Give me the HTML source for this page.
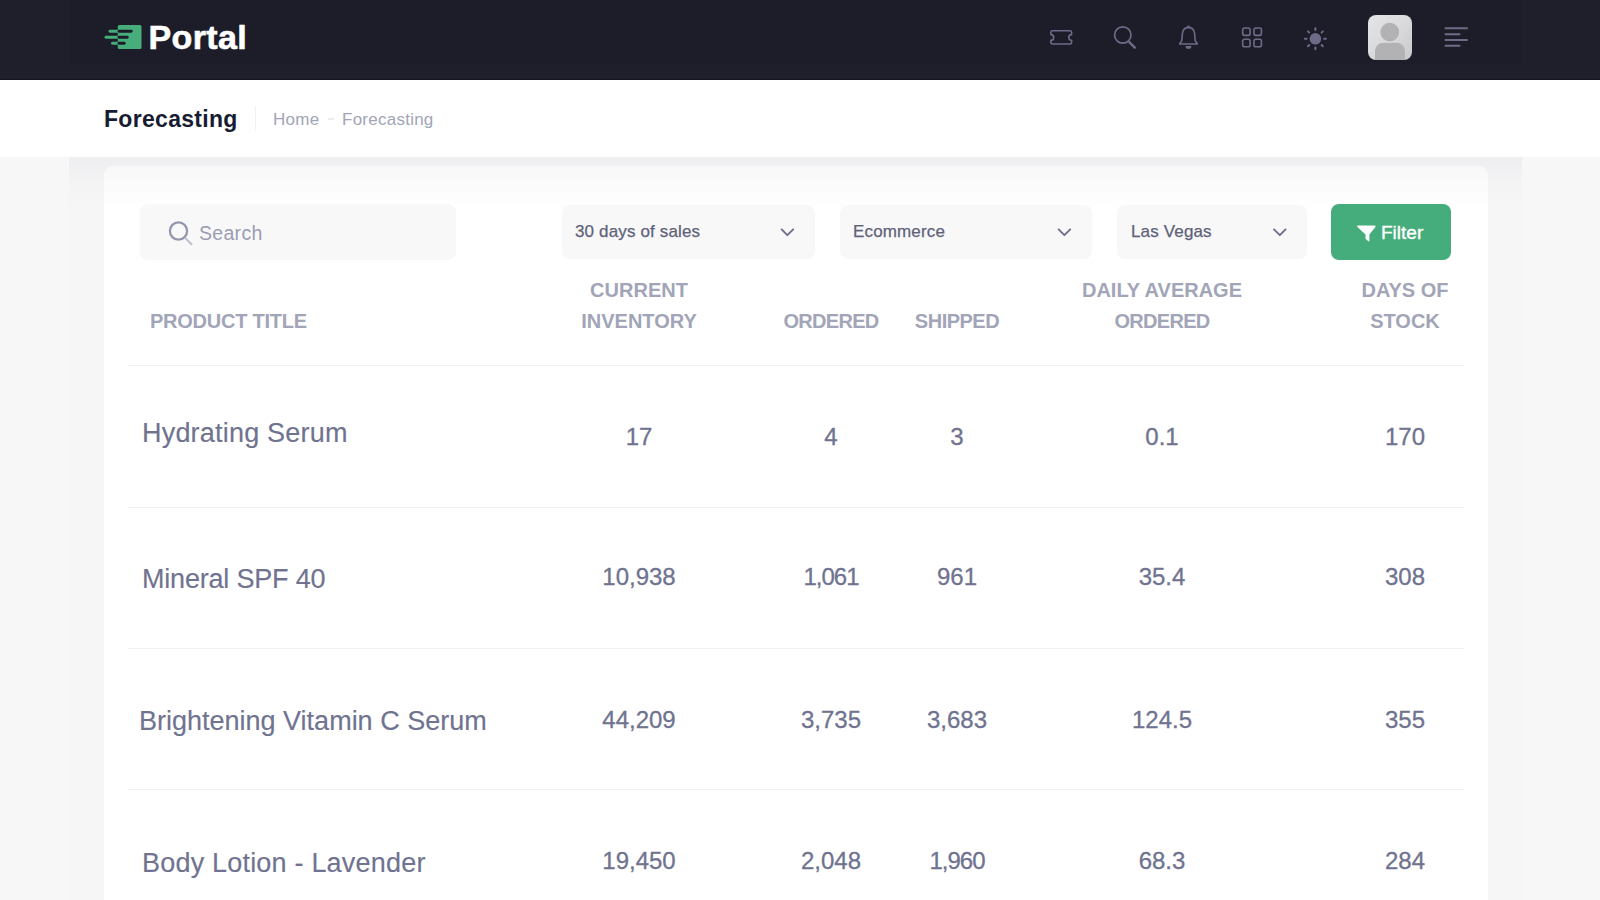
<!DOCTYPE html>
<html>
<head>
<meta charset="utf-8">
<style>
html,body{margin:0;padding:0;}
body{width:1600px;height:900px;overflow:hidden;background:#f7f7f7;position:relative;font-family:"Liberation Sans",sans-serif;}
.abs{position:absolute;}
#hdr{left:0;top:0;width:1600px;height:80px;background:#1f1e2b;}
#hdr-inner{left:69px;top:0;width:1453px;height:64px;background:#1d1d29;}
#hdr-line{left:0;top:79px;width:1600px;height:1px;background:#14141d;}
#toolbar{left:0;top:80px;width:1600px;height:77px;background:#ffffff;}
#shade{left:69px;top:157px;width:1453px;height:743px;background:linear-gradient(#eeeef0 0px,#f0f0f2 9px,#f4f4f5 28px,#f6f6f6 50px,#f6f6f6 100%);}
#card{left:104px;top:166px;width:1384px;height:800px;background:linear-gradient(#f8f8f9 0px,#ffffff 42px);border-radius:9px;}
.t{position:absolute;white-space:nowrap;line-height:1;}
.c{text-align:center;}
.hd{font-size:20px;font-weight:700;color:#a1a5b7;}
.ln{left:128px;width:1336px;height:1px;background:#eff2f5;}
.pt{font-size:27px;color:#6f7390;-webkit-text-stroke:0.15px #6f7390;}
.num{font-size:24px;color:#6f7390;-webkit-text-stroke:0.3px #6f7390;}
</style>
</head>
<body>
<div id="hdr" class="abs"></div>
<div id="hdr-inner" class="abs"></div>
<div id="hdr-line" class="abs"></div>

<!-- logo -->
<svg class="abs" style="left:100px;top:20px" width="50" height="34" viewBox="100 20 50 34">
  <rect x="117.8" y="25" width="23.7" height="24" rx="1.5" fill="#47ad7b"/>
  <g stroke-linecap="round" stroke-width="2.9">
    <line x1="110" y1="31.2" x2="119" y2="31.2" stroke="#47ad7b"/>
    <line x1="119" y1="31.2" x2="131.2" y2="31.2" stroke="#1d1d29"/>
    <line x1="106" y1="37.2" x2="119" y2="37.2" stroke="#47ad7b"/>
    <line x1="119" y1="37.2" x2="127.2" y2="37.2" stroke="#1d1d29"/>
    <line x1="112.5" y1="43.2" x2="119" y2="43.2" stroke="#47ad7b"/>
    <line x1="119" y1="43.2" x2="124.2" y2="43.2" stroke="#1d1d29"/>
  </g>
</svg>
<div class="t" style="left:148.5px;top:20px;font-size:34px;font-weight:700;color:#ffffff;letter-spacing:0.35px;-webkit-text-stroke:0.6px #ffffff;">Portal</div>


<!-- header icons -->
<svg class="abs" style="left:0;top:0" width="1600" height="80" viewBox="0 0 1600 80">
  <g fill="none" stroke="#6d6b87" stroke-width="1.6" stroke-linecap="round" stroke-linejoin="round">
    <!-- ticket -->
    <path d="M1052.5 30.8 H1070 a1.6 1.6 0 0 1 1.6 1.6 V34.6 a2.8 2.8 0 0 0 0 5.6 V42.4 a1.6 1.6 0 0 1 -1.6 1.6 H1052.5 a1.6 1.6 0 0 1 -1.6 -1.6 V40.2 a2.8 2.8 0 0 0 0 -5.6 V32.4 a1.6 1.6 0 0 1 1.6 -1.6 Z"/>
    <!-- search -->
    <circle cx="1122.8" cy="35" r="8.2" stroke-width="1.7"/>
    <line x1="1129.3" y1="42.2" x2="1134.8" y2="47.6" stroke-width="2.4"/>
    <!-- bell -->
    <path d="M1179.6 44 H1197.4 L1195.2 40.6 L1194.6 33.5 C1194.2 29.6 1191.6 27.6 1188.5 27.4 C1185.4 27.6 1182.8 29.6 1182.4 33.5 L1181.8 40.6 Z"/>
    <!-- grid -->
    <rect x="1242.7" y="28" width="7.4" height="7.4" rx="1.8"/>
    <rect x="1254" y="28" width="7.4" height="7.4" rx="1.8"/>
    <rect x="1242.7" y="39.3" width="7.4" height="7.4" rx="1.8"/>
    <rect x="1254" y="39.3" width="7.4" height="7.4" rx="1.8"/>
    <!-- sun rays -->
    <g stroke-width="2">
      <line x1="1315.4" y1="28.3" x2="1315.4" y2="30"/>
      <line x1="1315.4" y1="47.6" x2="1315.4" y2="49.3"/>
      <line x1="1304.9" y1="38.8" x2="1306.6" y2="38.8"/>
      <line x1="1324.2" y1="38.8" x2="1325.9" y2="38.8"/>
      <line x1="1308" y1="31.4" x2="1309.2" y2="32.6"/>
      <line x1="1321.6" y1="45" x2="1322.8" y2="46.2"/>
      <line x1="1322.8" y1="31.4" x2="1321.6" y2="32.6"/>
      <line x1="1309.2" y1="45" x2="1308" y2="46.2"/>
    </g>
    <!-- hamburger -->
    <g stroke-width="2">
      <line x1="1445.5" y1="28.3" x2="1467" y2="28.3"/>
      <line x1="1445.5" y1="34.2" x2="1459.5" y2="34.2"/>
      <line x1="1445.5" y1="40" x2="1467" y2="40"/>
      <line x1="1445.5" y1="45.8" x2="1459.5" y2="45.8"/>
    </g>
  </g>
  <path d="M1185.6 46 H1191.4 A2.9 2.9 0 0 1 1185.6 46 Z" fill="#6d6b87"/>
  <circle cx="1188.5" cy="26.6" r="1.2" fill="#6d6b87"/>
  <circle cx="1315.4" cy="38.8" r="5.8" fill="#6d6b87"/>
  <!-- avatar -->
  <defs>
    <linearGradient id="avg" x1="0" y1="0" x2="1" y2="1">
      <stop offset="0" stop-color="#e4e4e6"/>
      <stop offset="0.5" stop-color="#dadadc"/>
      <stop offset="1" stop-color="#c9c9cc"/>
    </linearGradient>
    <clipPath id="avc"><rect x="1368" y="15" width="44" height="45" rx="8"/></clipPath>
  </defs>
  <rect x="1368" y="15" width="44" height="45" rx="8" fill="url(#avg)"/>
  <g clip-path="url(#avc)" fill="#b2b2b5">
    <path d="M1375 62 V52 C1375 46 1379 42.8 1384 42.8 H1396 C1401 42.8 1405 46 1405 52 V62 Z"/>
    <circle cx="1389.8" cy="32.2" r="10" stroke="#dcdcde" stroke-width="1.2"/>
  </g>
</svg>

<div id="toolbar" class="abs"></div>
<div class="t" style="left:104px;top:108px;font-size:23px;font-weight:700;color:#181c32;letter-spacing:0.3px;">Forecasting</div>
<div class="abs" style="left:255px;top:106px;width:1px;height:25px;background:#f0f1f4"></div>
<div class="t" style="left:273px;top:110.5px;font-size:17px;color:#a1a5b7;letter-spacing:0.3px;">Home</div>
<div class="abs" style="left:328px;top:118px;width:6px;height:2px;background:#ecedf1"></div>
<div class="t" style="left:342px;top:110.5px;font-size:17px;color:#a1a5b7;letter-spacing:0.25px;">Forecasting</div>

<div id="shade" class="abs"></div>
<div id="card" class="abs"></div>


<!-- filters -->
<div class="abs" style="left:140px;top:204px;width:316px;height:56px;background:#f8f8f8;border-radius:8px"></div>
<svg class="abs" style="left:160px;top:215px" width="40" height="40" viewBox="160 215 40 40">
  <circle cx="178.5" cy="231" r="8.6" fill="none" stroke="#9397ad" stroke-width="2.3"/>
  <line x1="185.6" y1="238.4" x2="191.5" y2="244.2" stroke="#bcbfcc" stroke-width="2" stroke-linecap="round"/>
</svg>
<div class="t" style="left:199px;top:224px;font-size:19.5px;color:#9a9db3;letter-spacing:0.3px;">Search</div>

<div class="abs" style="left:562px;top:205px;width:253px;height:54px;background:#f8f8f8;border-radius:8px"></div>
<div class="t" style="left:575px;top:223px;font-size:17px;color:#5e6278;letter-spacing:0.15px;-webkit-text-stroke:0.25px #5e6278;">30 days of sales</div>
<div class="abs" style="left:840px;top:205px;width:252px;height:54px;background:#f8f8f8;border-radius:8px"></div>
<div class="t" style="left:853px;top:223px;font-size:17px;color:#5e6278;letter-spacing:0.15px;-webkit-text-stroke:0.25px #5e6278;">Ecommerce</div>
<div class="abs" style="left:1117px;top:205px;width:190px;height:54px;background:#f8f8f8;border-radius:8px"></div>
<div class="t" style="left:1131px;top:223px;font-size:17px;color:#5e6278;letter-spacing:0.15px;-webkit-text-stroke:0.25px #5e6278;">Las Vegas</div>
<svg class="abs" style="left:0;top:200px" width="1600" height="70" viewBox="0 200 1600 70">
  <g fill="none" stroke="#6d6f8a" stroke-width="1.9" stroke-linecap="round" stroke-linejoin="round">
    <path d="M781.6 229.4 L787.4 235.2 L793.2 229.4"/>
    <path d="M1058.6 229.4 L1064.4 235.2 L1070.2 229.4"/>
    <path d="M1274 229.4 L1279.8 235.2 L1285.6 229.4"/>
  </g>
</svg>

<div class="abs" style="left:1331px;top:204px;width:120px;height:56px;background:#45ad7b;border-radius:8px"></div>
<svg class="abs" style="left:1350px;top:220px" width="30" height="30" viewBox="1350 220 30 30">
  <path d="M1358 225.6 H1374.8 C1375.6 225.6 1375.9 226.4 1375.4 227 L1369.4 234.4 V240.8 C1369.4 241.4 1368.8 241.6 1368.3 241.2 L1365.8 239 C1365.6 238.8 1365.5 238.6 1365.5 238.3 V234.4 L1357.4 227 C1356.9 226.4 1357.2 225.6 1358 225.6 Z" fill="#ffffff"/>
</svg>
<div class="t" style="left:1381px;top:222.5px;font-size:19px;color:#ffffff;-webkit-text-stroke:0.35px #ffffff;">Filter</div>

<!-- table header -->
<div class="t hd" style="letter-spacing:-0.25px;left:150px;top:311px;">PRODUCT TITLE</div>
<div class="t hd c" style="left:539px;top:279.5px;width:200px;">CURRENT</div>
<div class="t hd c" style="left:539px;top:311px;width:200px;">INVENTORY</div>
<div class="t hd c" style="left:731px;top:311px;width:200px;letter-spacing:-0.7px;">ORDERED</div>
<div class="t hd c" style="left:857px;top:311px;width:200px;letter-spacing:-0.5px;">SHIPPED</div>
<div class="t hd c" style="left:1062px;top:279.5px;width:200px;">DAILY AVERAGE</div>
<div class="t hd c" style="left:1062px;top:311px;width:200px;letter-spacing:-0.7px;">ORDERED</div>
<div class="t hd c" style="left:1305px;top:279.5px;width:200px;">DAYS OF</div>
<div class="t hd c" style="left:1305px;top:311px;width:200px;">STOCK</div>

<div class="abs ln" style="top:365px"></div>
<div class="abs ln" style="top:507px"></div>
<div class="abs ln" style="top:648px"></div>
<div class="abs ln" style="top:789px"></div>

<!-- rows -->
<div class="t pt" style="left:142px;top:420px;letter-spacing:0.2px;">Hydrating Serum</div>
<div class="t num c" style="left:539px;top:424.5px;width:200px;">17</div>
<div class="t num c" style="left:731px;top:424.5px;width:200px;">4</div>
<div class="t num c" style="left:857px;top:424.5px;width:200px;">3</div>
<div class="t num c" style="left:1062px;top:424.5px;width:200px;">0.1</div>
<div class="t num c" style="left:1305px;top:424.5px;width:200px;">170</div>

<div class="t pt" style="left:142px;top:565.5px;letter-spacing:-0.2px;">Mineral SPF 40</div>
<div class="t num c" style="left:539px;top:565px;width:200px;">10,938</div>
<div class="t num c" style="left:731px;top:565px;width:200px;letter-spacing:-1px;">1,061</div>
<div class="t num c" style="left:857px;top:565px;width:200px;">961</div>
<div class="t num c" style="left:1062px;top:565px;width:200px;">35.4</div>
<div class="t num c" style="left:1305px;top:565px;width:200px;">308</div>

<div class="t pt" style="left:139px;top:708px;">Brightening Vitamin C Serum</div>
<div class="t num c" style="left:539px;top:707.5px;width:200px;">44,209</div>
<div class="t num c" style="left:731px;top:707.5px;width:200px;">3,735</div>
<div class="t num c" style="left:857px;top:707.5px;width:200px;">3,683</div>
<div class="t num c" style="left:1062px;top:707.5px;width:200px;">124.5</div>
<div class="t num c" style="left:1305px;top:707.5px;width:200px;">355</div>

<div class="t pt" style="left:142px;top:850px;letter-spacing:0.2px;">Body Lotion - Lavender</div>
<div class="t num c" style="left:539px;top:849px;width:200px;">19,450</div>
<div class="t num c" style="left:731px;top:849px;width:200px;">2,048</div>
<div class="t num c" style="left:857px;top:849px;width:200px;letter-spacing:-1px;">1,960</div>
<div class="t num c" style="left:1062px;top:849px;width:200px;">68.3</div>
<div class="t num c" style="left:1305px;top:849px;width:200px;">284</div>

</body>
</html>
